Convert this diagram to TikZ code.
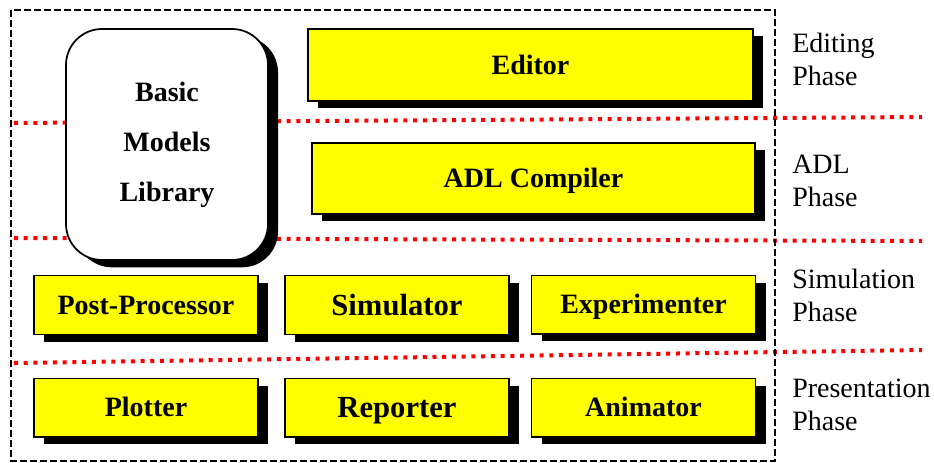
\documentclass[tikz,border=0pt]{standalone}
\usepackage{fontspec}
\setmainfont{Liberation Serif}
\usepackage{xcolor}
\usepackage{tikz}
\usetikzlibrary{shadows}

\definecolor{boxyellow}{RGB}{255,255,0}
\definecolor{sepred}{RGB}{255,0,0}

\begin{document}
\begin{tikzpicture}[
    x=0.75pt, y=-0.75pt,
    box/.style={rectangle, draw, line width=1pt, fill=boxyellow, inner sep=0pt, align=center,
        text height=15pt, text depth=1pt,
        font=\bfseries\fontsize{21}{25}\selectfont,
        drop shadow={shadow xshift=7.5pt, shadow yshift=-5.5pt, fill=black, opacity=1}},
    rowbox/.style={box, minimum width=168pt, minimum height=44pt},
    bigtext/.style={font=\bfseries\fontsize{23}{27}\selectfont, text height=16.2pt, text depth=1pt},
    libbox/.style={box, fill=white, rounded corners=27pt, line width=1.3pt, text height=, text depth=,
        font=\bfseries\fontsize{21}{37.5}\selectfont},
    phase/.style={anchor=north west, inner sep=0pt, align=left, font=\fontsize{21}{24.5}\selectfont},
    sep/.style={sepred, line width=3pt, dash pattern=on 3pt off 4.3pt},
    frame/.style={black, line width=1.3pt, dash pattern=on 5pt off 2.5pt}
]
    \useasboundingbox (0,0) rectangle (934,463);

    % Phase separators
    \draw[sep] (14,123) -- (922,117);
    \draw[sep] (14,238) -- (922,241);
    \draw[sep] (14,363) -- (922,350);

    % Environment frame
    \draw[frame] (11,10) rectangle (775,461);

    % Library
    \node[libbox, minimum width=151.5pt, minimum height=173.25pt] (library) at (167,144.5) {Basic\\Models\\Library};

    % Editing and ADL phases
    \node[box, minimum width=333.75pt, minimum height=54pt] (editor) at (530.5,65) {Editor};
    \node[box, minimum width=332.25pt, minimum height=53.25pt] (compiler) at (533.5,178.5) {ADL Compiler};

    % Simulation phase
    \node[rowbox] (postproc) at (146,305) {Post-Processor};
    \node[rowbox, bigtext] (simulator) at (397,305) {Simulator};
    \node[rowbox] (experimenter) at (643.5,304.5) {Experimenter};

    % Presentation phase
    \node[rowbox] (plotter) at (146,407.5) {Plotter};
    \node[rowbox, bigtext] (reporter) at (397,407.5) {Reporter};
    \node[rowbox] (animator) at (643.5,407.5) {Animator};

    % Phase labels
    \node[phase] (editing) at (792,33) {Editing\\Phase};
    \node[phase] (adl) at (792,155) {ADL\\Phase};
    \node[phase] (simulation) at (792,269) {Simulation\\Phase};
    \node[phase] (presentation) at (792,379) {Presentation\\Phase};
\end{tikzpicture}
\end{document}
